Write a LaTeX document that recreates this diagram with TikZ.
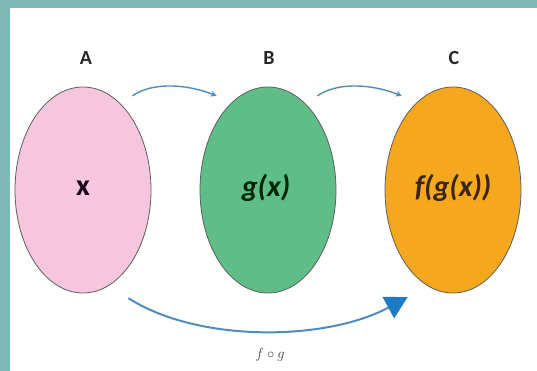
\documentclass[tikz,border=0pt]{standalone}
\usepackage{fontspec}
\newfontfamily\labfont{Carlito}
\usetikzlibrary{arrows.meta,calc,shapes.geometric}
\definecolor{frameteal}{HTML}{7FB9B3}
\definecolor{setpink}{HTML}{F6C5DE}
\definecolor{setgreen}{HTML}{5FBE87}
\definecolor{setorange}{HTML}{F5A81E}
\definecolor{arrowblue}{HTML}{4E8DBF}
\definecolor{tipblue}{HTML}{1F7BC4}
\definecolor{outlinegrey}{HTML}{5E5E5E}
\tikzset{
  setbox/.style={ellipse, draw=outlinegrey, line width=0.8pt, minimum width=136pt, minimum height=206pt, inner sep=0pt},
  setname/.style={font=\labfont\fontsize{20}{24}\selectfont\bfseries, text=black!85},
  inner/.style={font=\labfont\fontsize{30}{34}\selectfont\bfseries\itshape},
  maparrow/.style={draw=arrowblue, line width=1.4pt, -{Stealth[length=6pt,width=6pt]}},
  comparrow/.style={draw=arrowblue, line width=2pt, -{Triangle[length=22pt,width=24pt,color=tipblue]}}
}
\begin{document}
\begin{tikzpicture}[x=1pt,y=1pt]
\useasboundingbox (0,0) rectangle (537,371);
\fill[frameteal] (0,0) rectangle (537,371);
\fill[white] (10,0) rectangle (537,363);

\node[setbox, fill=setpink] (A) at (83,181) {};
\node[setbox, fill=setgreen] (B) at (268,181) {};
\node[setbox, fill=setorange] (C) at (453,181) {};

\node[setname] (la) at (86,313) {A};
\node[setname] (lb) at (269,313) {B};
\node[setname] (lc) at (454,313) {C};

\node[inner, text=black!80!violet, font=\labfont\fontsize{30}{34}\selectfont\bfseries] (tx) at (83,183) {x};
\node[inner, text=black!75!green!60!black] (tg) at (266,183) {g(x)};
\node[inner, text=black!70!brown] (tf) at (453,183) {f(g(x))};

\coordinate (s1) at ($(A.north east)+(1,21)$);
\coordinate (e1) at ($(B.north west)+(-3,21)$);
\coordinate (s2) at ($(B.north east)+(1,21)$);
\coordinate (e2) at ($(C.north west)+(-3,21)$);
\draw[maparrow] (s1) .. controls ($(s1)+(20,14)$) and ($(e1)+(-30,12)$) .. (e1);
\draw[maparrow] (s2) .. controls ($(s2)+(20,14)$) and ($(e2)+(-30,12)$) .. (e2);

\coordinate (s3) at ($(A.south east)+(-3,-35)$);
\coordinate (e3) at ($(C.south west)+(3,-34)$);
\draw[comparrow] (s3) .. controls ($(s3)+(70,-45)$) and ($(e3)+(-81,-44)$) .. (e3);

\node[font=\fontsize{14}{16}\selectfont, text=black!75] (fg) at (270,16) {$f\circ g$};
\end{tikzpicture}
\end{document}
